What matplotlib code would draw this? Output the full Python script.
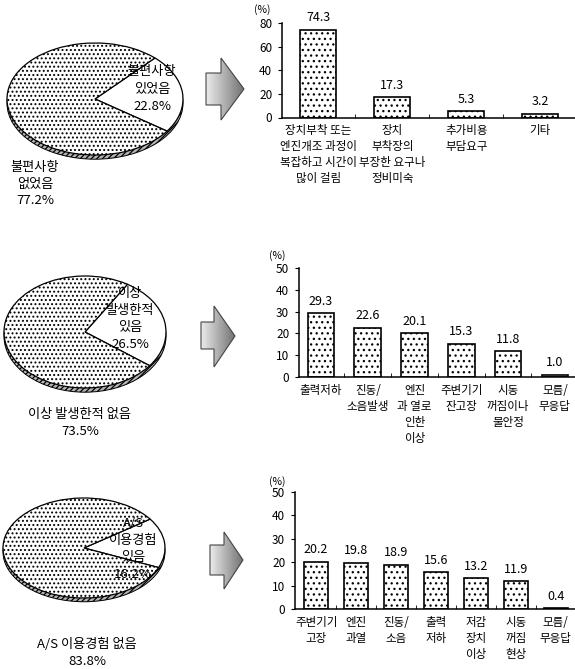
import matplotlib
matplotlib.use("Agg")
import matplotlib.pyplot as plt
import numpy as np
from matplotlib.patches import Ellipse, Polygon

plt.rcParams['font.family'] = ['Noto Sans CJK KR', 'DejaVu Sans']
plt.rcParams['hatch.linewidth'] = 0.9

W, H = 575, 669

# ---- data ----
pie1_values = [22.8, 77.2]
pie1_labels = ['불편사항\n있었음\n22.8%', '불편사항\n없었음\n77.2%']

pie2_values = [26.5, 73.5]
pie2_labels = ['이상\n발생한적\n있음\n26.5%', '이상 발생한적 없음\n73.5%']

pie3_values = [16.2, 83.8]
pie3_labels = ['A/S\n이용경험\n있음\n16.2%', 'A/S 이용경험 없음\n83.8%']

bar1_cats = ['장치부착 또는\n엔진개조 과정이\n복잡하고 시간이\n많이 걸림',
             '장치\n부착장의\n부장한 요구나\n정비미숙',
             '추가비용\n부담요구', '기타']
bar1_values = [74.3, 17.3, 5.3, 3.2]

bar2_cats = ['출력저하', '진동/\n소음발생', '엔진\n과 열로\n인한\n이상',
             '주변기기\n잔고장', '시동\n꺼짐이나\n불안정', '모름/\n무응답']
bar2_values = [29.3, 22.6, 20.1, 15.3, 11.8, 1.0]

bar3_cats = ['주변기기\n고장', '엔진\n과열', '진동/\n소음', '출력\n저하',
             '저감\n장치\n이상', '시동\n꺼짐\n현상', '모름/\n무응답']
bar3_values = [20.2, 19.8, 18.9, 15.6, 13.2, 11.9, 0.4]


def box(x0, y0, x1, y1):
    # pixel box (top-left origin) -> figure fraction rect
    return [x0 / W, 1 - y1 / H, (x1 - x0) / W, (y1 - y0) / H]


fig = plt.figure(figsize=(W / 100, H / 100), dpi=100)

# overlay for arrows and free text, in pixel coords
over = fig.add_axes([0, 0, 1, 1], zorder=5)
over.set_xlim(0, W)
over.set_ylim(H, 0)
over.axis('off')
over.patch.set_alpha(0)


def draw_pie(cx, cy, a, b, values, start):
    ax = fig.add_axes(box(cx - a, cy - b, cx + a, cy + b))
    rim = Ellipse((0, -0.075), 2, 2, fc='#b4b4b4', ec='black', lw=0.7,
                  hatch='//////', clip_on=False, zorder=0)
    ax.add_patch(rim)
    wedges, _ = ax.pie(values, startangle=start, colors=['white', 'white'],
                       wedgeprops=dict(edgecolor='black', linewidth=0.9))
    wedges[1].set_hatch('....')
    for w in wedges:
        w.set_clip_on(False)
        w.set_zorder(1)
    ax.set_aspect('auto')
    ax.set_xlim(-1, 1)
    ax.set_ylim(-1, 1)
    ax.axis('off')
    return ax


def draw_arrow(x0, xm, x1, sy0, sy1, hy0, hy1, ty):
    pts = [(x0, sy0), (xm, sy0), (xm, hy0), (x1, ty), (xm, hy1), (xm, sy1), (x0, sy1)]
    poly = Polygon(pts, closed=True, fc='none', ec='#444444', lw=0.8, zorder=3)
    over.add_patch(poly)
    grad = np.linspace(0.92, 0.45, 64).reshape(1, -1)
    im = over.imshow(grad, cmap='gray', vmin=0, vmax=1, aspect='auto',
                     extent=(x0, x1, hy1, hy0), zorder=2)
    im.set_clip_path(poly)


def draw_bars(rect, cats, vals, ymax, step, xlim, width):
    ax = fig.add_axes(rect)
    x = np.arange(len(vals))
    bars = ax.bar(x, vals, width, color='white', edgecolor='black',
                  linewidth=1.2, hatch='...')
    ax.bar_label(bars, labels=[f'{v:.1f}' for v in vals], padding=4, fontsize=9)
    ax.set_ylim(0, ymax)
    ax.set_yticks(np.arange(0, ymax + 1, step))
    ax.set_xlim(*xlim)
    ax.set_xticks(x)
    ax.set_xticklabels(cats, fontsize=8.3, linespacing=1.3)
    ax.set_xticks(x[:-1] + 0.5, minor=True)
    for s in ['top', 'right']:
        ax.spines[s].set_visible(False)
    for s in ['left', 'bottom']:
        ax.spines[s].set_linewidth(1.1)
    ax.tick_params(axis='x', which='major', length=0, pad=5)
    ax.tick_params(axis='x', which='minor', length=3, direction='in')
    ax.tick_params(axis='y', length=3, direction='out', labelsize=8.5, pad=4)
    return ax


pie_kw = dict(ha='center', va='center', fontsize=9.5, linespacing=1.4)

# ---- row 1 ----
draw_pie(95, 99, 88, 56, pie1_values, -35)
over.text(152, 89, pie1_labels[0], **pie_kw)
over.text(35, 184, pie1_labels[1], **pie_kw)
draw_arrow(206, 221, 244, 73, 105, 58, 120, 89)
draw_bars(box(282, 23, 575, 117.5), bar1_cats, bar1_values, 80, 20, (-0.49, 3.47), 0.49)
over.text(262, 10, '(%)', ha='center', va='center', fontsize=7.5)

# ---- row 2 ----
draw_pie(85, 332, 81, 56, pie2_values, -37)
over.text(130, 319, pie2_labels[0], **pie_kw)
over.text(80, 423, pie2_labels[1], **pie_kw)
draw_arrow(201, 214, 235, 322, 349, 306, 367, 336)
draw_bars(box(299, 268, 575, 377), bar2_cats, bar2_values, 50, 10, (-0.47, 5.43), 0.57)
over.text(277, 256, '(%)', ha='center', va='center', fontsize=7.5)

# ---- row 3 ----
draw_pie(84, 548, 81, 50, pie3_values, -23)
over.text(133, 549, pie3_labels[0], **pie_kw)
over.text(87, 653, pie3_labels[1], **pie_kw)
draw_arrow(210, 224, 243, 545, 575, 532, 589, 560)
draw_bars(box(295, 492, 575, 609), bar3_cats, bar3_values, 50, 10, (-0.53, 6.48), 0.6)
over.text(277, 482, '(%)', ha='center', va='center', fontsize=7.5)

fig.savefig('out.png', dpi=100, facecolor='white')
